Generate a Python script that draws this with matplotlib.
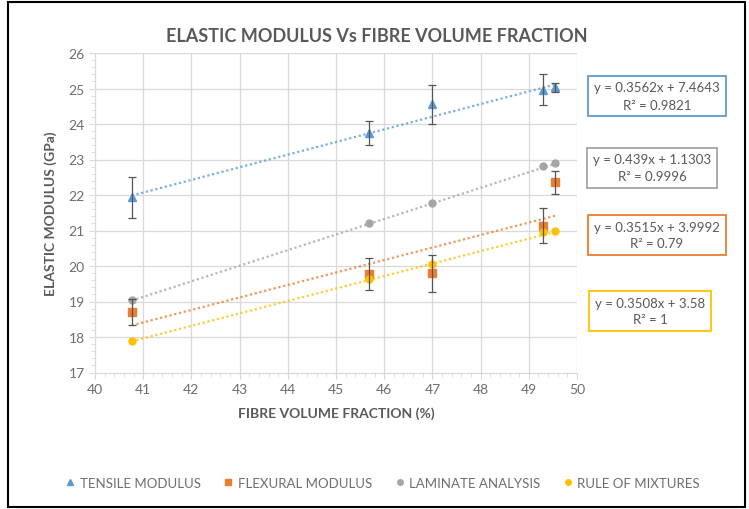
import matplotlib
matplotlib.use("Agg")
import matplotlib.pyplot as plt
import numpy as np
from matplotlib.patches import Rectangle
from matplotlib.ticker import MultipleLocator

plt.rcParams['font.family'] = ['Lato', 'DejaVu Sans']

# ---- data ----
fvf = [40.76, 45.68, 47.0, 49.3, 49.55]
tensile = [21.94, 23.75, 24.56, 24.97, 25.03]
tensile_err = [0.58, 0.33, 0.55, 0.43, 0.12]
flexural = [18.70, 19.77, 19.80, 21.14, 22.36]
flexural_err = [0.37, 0.46, 0.52, 0.50, 0.33]
laminate = [19.05, 21.21, 21.77, 22.81, 22.90]
rule = [17.90, 19.63, 20.06, 20.95, 20.98]

series_names = ["TENSILE MODULUS", "FLEXURAL MODULUS", "LAMINATE ANALYSIS", "RULE OF MIXTURES"]
slopes = [0.3562, 0.3515, 0.439, 0.3508]
intercepts = [7.4643, 3.9992, 1.1303, 3.58]
eq_labels = ["y = 0.3562x + 7.4643\nR² = 0.9821",
             "y = 0.3515x + 3.9992\nR² = 0.79",
             "y = 0.439x + 1.1303\nR² = 0.9996",
             "y = 0.3508x + 3.58\nR² = 1"]

colors = ["#5B9BD5", "#ED7D31", "#A5A5A5", "#FFC000"]
markers = ["^", "s", "o", "o"]
TXT = "#595959"
TICK = "#6E6E6E"

fig = plt.figure(figsize=(7.49, 5.10), dpi=100)
ax = fig.add_axes([95/749, 1-373.5/510, (577-95)/749, (373.5-54)/510])

ys_all = [tensile, flexural, laminate, rule]
errs = [tensile_err, flexural_err, None, None]
handles = []
for i, ys in enumerate(ys_all):
    xl = np.array([min(fvf), max(fvf)])
    ax.plot(xl, slopes[i]*xl + intercepts[i], color=colors[i], lw=1.6,
            linestyle=(0, (1, 1.2)), alpha=0.8, zorder=2)
    if errs[i] is not None:
        ax.errorbar(fvf, ys, yerr=errs[i], fmt='none', ecolor="#555555",
                    elinewidth=0.9, capsize=3, capthick=0.9, zorder=4)
    h, = ax.plot(fvf, ys, linestyle='none', marker=markers[i], color=colors[i],
                 markersize=6 if i < 2 else 5, zorder=3, label=series_names[i])
    handles.append(h)

ax.set_xlim(40, 50)
ax.set_ylim(17, 26)
ax.xaxis.set_major_locator(MultipleLocator(1))
ax.xaxis.set_minor_locator(MultipleLocator(0.2))
ax.yaxis.set_major_locator(MultipleLocator(1))
ax.yaxis.set_minor_locator(MultipleLocator(0.2))
ax.grid(True, which='major', color="#D9D9D9", lw=0.9)
ax.set_axisbelow(True)
for s in ['top', 'right']:
    ax.spines[s].set_visible(False)
for s in ['left', 'bottom']:
    ax.spines[s].set_color("#D9D9D9")
ax.tick_params(which='both', colors="#D9D9D9", labelcolor=TICK, labelsize=10)
ax.tick_params(which='major', length=4)
ax.tick_params(which='minor', length=3)

ax.set_xlabel("FIBRE VOLUME FRACTION (%)", color=TXT, fontsize=10, fontweight='bold', labelpad=8)
ax.set_ylabel("ELASTIC MODULUS (GPa)", color=TXT, fontsize=10, fontweight='bold', labelpad=8)
fig.text(377/749, 1-36/510, "ELASTIC MODULUS Vs FIBRE VOLUME FRACTION", ha='center', va='center',
         color=TXT, fontsize=13, fontweight='bold')

# equation boxes (tensile, flexural, laminate, rule)
box_y = [97, 236, 169, 312]
box_x = [657, 657, 652, 650]
for i in range(4):
    fig.text(box_x[i]/749, 1-box_y[i]/510, eq_labels[i], ha='center', va='center',
             color=TXT, fontsize=9.5, linespacing=1.5,
             bbox=dict(boxstyle='square,pad=0.45', fc='white', ec=colors[i], lw=1.3))

fig.legend(handles=handles, loc='center', bbox_to_anchor=(383/749, 1-484/510), ncol=4,
           frameon=False, fontsize=9.5, labelcolor=TICK, handlelength=0.6, handletextpad=0.4,
           columnspacing=1.8, markerscale=0.8)

fig.patches.append(Rectangle((0.011, 0.004), 0.984, 0.99, transform=fig.transFigure,
                             fill=False, ec='black', lw=1.5))

fig.savefig("out.png", dpi=100)
